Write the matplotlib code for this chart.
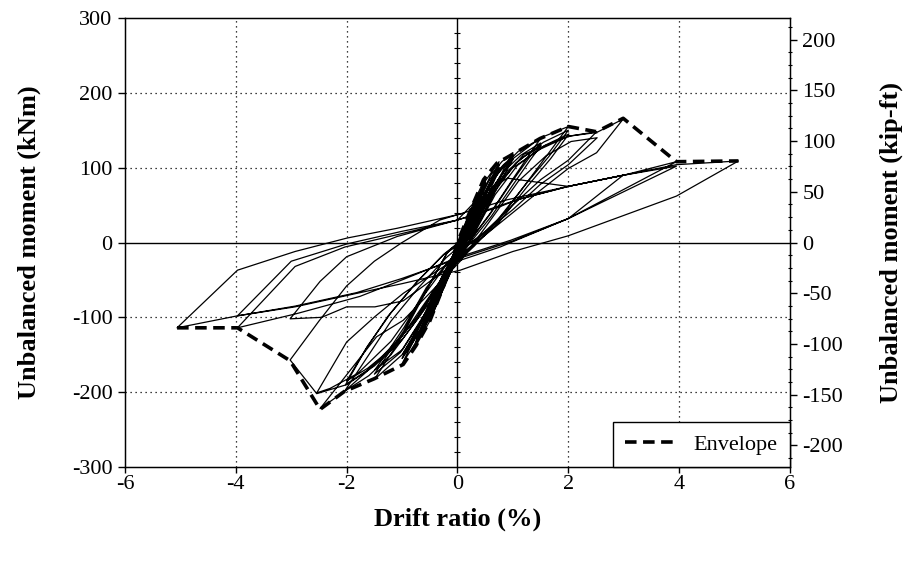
import numpy as np
import matplotlib
matplotlib.use("Agg")
import matplotlib.pyplot as plt
from matplotlib.ticker import MultipleLocator

plt.rcParams['font.family'] = ['Liberation Serif', 'DejaVu Serif']

# Recorded hysteresis: drift ratio (%) and unbalanced moment (kNm), in test order
drift = [
    # 0.25 %
    0.00, 0.12, 0.25, 0.18, 0.05, -0.10, -0.25, -0.17, -0.05,
    0.15, 0.26, 0.20, 0.07, -0.08, -0.25, -0.18, -0.06,
    0.14, 0.25, 0.19, 0.06, -0.09, -0.24, -0.17, -0.05,
    # 0.5 %
    0.10, 0.30, 0.50, 0.42, 0.25, 0.10, -0.10, -0.30, -0.50, -0.42, -0.25, -0.10,
    0.12, 0.32, 0.50, 0.41, 0.24, 0.08, -0.12, -0.32, -0.50, -0.41, -0.24, -0.08,
    0.14, 0.33, 0.51, 0.42, 0.26, 0.10, -0.11, -0.31, -0.49, -0.40, -0.23, -0.07,
    # 0.75 %
    0.10, 0.30, 0.50, 0.75, 0.65, 0.45, 0.20, 0.00, -0.25, -0.50, -0.75, -0.65, -0.45, -0.20,
    0.15, 0.35, 0.55, 0.75, 0.64, 0.43, 0.18, -0.02, -0.27, -0.52, -0.75, -0.64, -0.44, -0.18,
    0.17, 0.37, 0.57, 0.76, 0.66, 0.46, 0.21, 0.01, -0.24, -0.49, -0.74, -0.63, -0.43, -0.17,
    # 1.0 %
    0.10, 0.35, 0.60, 0.80, 1.00, 0.85, 0.60, 0.30, 0.00, -0.30, -0.60, -0.85, -1.00, -0.85, -0.60, -0.30, 0.00,
    0.15, 0.40, 0.64, 0.83, 1.00, 0.84, 0.58, 0.28, -0.02, -0.32, -0.62, -0.86, -1.00, -0.84, -0.58, -0.28, 0.02,
    0.18, 0.43, 0.66, 0.85, 1.01, 0.86, 0.61, 0.31, 0.01, -0.29, -0.59, -0.84, -0.99, -0.83, -0.57, -0.27,
    # 1.5 %
    0.15, 0.50, 0.80, 1.10, 1.50, 1.30, 1.00, 0.60, 0.20, -0.20, -0.60, -1.00, -1.50, -1.30, -1.00, -0.60, -0.20,
    0.20, 0.55, 0.85, 1.15, 1.50, 1.28, 0.97, 0.57, 0.17, -0.23, -0.63, -1.03, -1.50, -1.28, -0.97, -0.57, -0.17,
    0.22, 0.57, 0.88, 1.18, 1.51, 1.31, 1.01, 0.61, 0.21, -0.19, -0.59, -0.99, -1.49, -1.27, -0.96, -0.56,
    # 2.0 %
    0.20, 0.60, 1.00, 1.50, 2.00, 1.70, 1.30, 0.80, 0.30, -0.20, -0.70, -1.20, -1.60, -2.04, -1.60, -1.20, -0.70, -0.20,
    0.25, 0.65, 1.05, 1.55, 2.00, 1.65, 1.20, 0.70, 0.20, -0.25, -0.75, -1.25, -1.65, -2.02, -1.65, -1.25, -0.75, -0.25,
    0.28, 0.68, 1.08, 1.58, 2.01, 1.68, 1.25, 0.75, 0.25, -0.22, -0.72, -1.22, -1.62, -2.00, -1.62, -1.20, -0.70, -0.22,
    # 2.5 %
    0.20, 0.70, 1.20, 2.00, 2.51, 2.00, 1.50, 1.00, 0.50, 0.00, -0.30, -1.00, -1.60, -2.04, -2.48, -1.46, -0.98, -0.40, 0.05,
    0.50, 1.10, 1.60, 2.05, 2.52, 2.00, 1.50, 1.00, 0.40, -0.10, -0.60, -1.20, -1.80, -2.30, -2.54, -2.00, -1.49, -0.98, 0.00,
    # 3.0 %
    0.50, 1.00, 1.50, 2.00, 2.51, 2.99, 2.51, 2.00, 1.50, 1.00, 0.50, 0.00,
    -0.50, -1.00, -1.50, -2.00, -2.54, -3.02, -2.50, -2.00, -1.50, -1.00, -0.32,
    0.89, 2.00, 2.99, 2.00, 0.77, 0.00,
    -0.98, -1.49, -2.00, -2.45, -3.02, -2.48, -2.00, -1.09, 0.00,
    # 4.0 %
    0.45, 0.90, 2.00, 3.00, 3.95, 2.00, 0.96, 0.00,
    -1.00, -1.76, -2.90, -3.97, -2.93, -2.03, -1.00, 0.00,
    1.07, 2.00, 3.00, 3.95, 2.00, 1.00, 0.00,
    -1.00, -1.82, -2.93, -3.97, -3.00, -2.00, -1.00, 0.00,
    # 5.0 %
    0.77, 1.07, 2.00, 3.00, 3.95, 5.07, 3.95, 2.00, 1.00, 0.05,
    -1.00, -1.82, -2.93, -3.97, -5.06, -3.97, -2.93, -1.99, -1.09, 0.11,
]

moment = [
    # 0.25 %
    0, 22, 46, 30, 5, -22, -58, -40, -15,
    25, 44, 30, 5, -20, -55, -38, -14,
    24, 42, 29, 4, -21, -53, -36, -13,
    # 0.5 %
    15, 55, 86, 65, 30, 5, -30, -70, -105, -85, -50, -20,
    14, 52, 82, 62, 28, 3, -32, -72, -100, -80, -47, -18,
    13, 50, 80, 61, 29, 4, -31, -70, -97, -78, -45, -16,
    # 0.75 %
    10, 50, 82, 108, 88, 55, 15, -15, -60, -105, -138, -118, -85, -40,
    18, 52, 80, 103, 84, 50, 12, -18, -62, -103, -132, -112, -80, -36,
    17, 50, 78, 100, 82, 49, 11, -17, -60, -100, -128, -109, -78, -34,
    # 1.0 %
    8, 50, 90, 108, 120, 100, 65, 20, -20, -65, -115, -145, -162, -140, -100, -50, -5,
    10, 52, 88, 104, 115, 95, 60, 16, -22, -66, -112, -140, -155, -134, -95, -46, -3,
    11, 52, 86, 102, 112, 93, 58, 15, -21, -64, -108, -136, -150, -130, -92, -44,
    # 1.5 %
    10, 65, 100, 122, 139, 118, 85, 40, 0, -45, -100, -150, -183, -160, -125, -70, -15,
    12, 64, 96, 117, 133, 112, 80, 36, -3, -48, -100, -147, -176, -152, -118, -64, -12,
    13, 62, 94, 114, 130, 110, 78, 35, -2, -46, -97, -143, -170, -147, -113, -60,
    # 2.0 %
    5, 70, 112, 140, 155, 125, 85, 35, -5, -40, -100, -150, -178, -199, -150, -105, -60, -20,
    8, 66, 106, 134, 150, 115, 75, 28, -8, -44, -102, -148, -172, -190, -142, -98, -54, -16,
    9, 64, 103, 130, 145, 112, 74, 27, -7, -42, -99, -144, -168, -185, -138, -94, -50, -14,
    # 2.5 %
    10, 75, 118, 142, 148, 110, 84, 50, 15, -15, -50, -125, -170, -199, -222, -126, -104, -60, -25,
    20, 82, 116, 135, 140, 104, 78, 44, 8, -20, -70, -132, -175, -195, -201, -133, -99, -68, -20,
    # 3.0 %
    60, 100, 125, 142, 147, 165, 120, 99, 70, 40, 10, -20,
    -80, -130, -165, -190, -202, -157, -105, -58, -25, 0, 30,
    57, 75, 90, 32, -6, -25,
    -78, -86, -86, -100, -102, -52, -19, 8, 30,
    # 4.0 %
    65, 86, 75, 90, 108, 32, 3, -20,
    -50, -72, -95, -114, -32, -6, 12, 30,
    57, 75, 90, 102, 32, 2, -22,
    -48, -67, -85, -98, -25, -2, 15, 30,
    # 5.0 %
    48, 57, 75, 90, 104, 109, 62, 9, -12, -37,
    -55, -68, -86, -98, -114, -37, -12, 6, 19, 39,
]

# Backbone (envelope) of the hysteresis
env_drift = [-5.06, -3.97, -3.02, -2.48, -2.04, -1.50, -0.98, -0.75, -0.50, -0.25, 0.00,
             0.25, 0.47, 0.71, 1.07, 1.49, 2.00, 2.51, 2.99, 3.95, 5.07]
env_moment = [-114, -114, -158, -223, -199, -182, -163, -138, -105, -58, 0,
              46, 84, 106, 121, 139, 155, 148, 166, 108, 109]

x_ticks = [-6, -4, -2, 0, 2, 4, 6]
y_ticks = [-300, -200, -100, 0, 100, 200, 300]
kipft_ticks = [-200, -150, -100, -50, 0, 50, 100, 150, 200]
KNM_TO_KIPFT = 0.7376

fig = plt.figure(figsize=(9.07, 5.67), dpi=100)
ax = fig.add_axes([0.1378, 0.1764, 0.7332, 0.7918])

ax.set_xlim(-6, 6)
ax.set_ylim(-300, 300)
ax.set_xticks(x_ticks)
ax.set_yticks(y_ticks)
ax.set_xticklabels([str(t) for t in x_ticks])
ax.set_yticklabels([str(t) for t in y_ticks])

# Dotted grid, solid axes through the origin
for gx in x_ticks[1:-1]:
    if gx != 0:
        ax.axvline(gx, color='black', lw=0.9, ls=(0, (1, 3)), zorder=1)
for gy in y_ticks[1:-1]:
    if gy != 0:
        ax.axhline(gy, color='black', lw=0.9, ls=(0, (1, 3)), zorder=1)
ax.axvline(0, color='black', lw=1.0, zorder=1)
ax.axhline(0, color='black', lw=1.0, zorder=1)

# small tick marks along the vertical axis through the origin
yt = np.arange(-280, 300, 20)
ax.plot(np.zeros_like(yt), yt, ls='none', marker='_', ms=4, mew=0.8, color='black', zorder=1)

ax.plot(drift, moment, color='black', lw=0.9, zorder=2)
ax.plot(env_drift, env_moment, color='black', lw=2.6, ls=(0, (3.2, 1.8)),
        zorder=3, label='Envelope')

for s in ax.spines.values():
    s.set_linewidth(1.0)
ax.tick_params(axis='y', direction='out', length=5, width=1.0,
               labelsize=16, pad=4)
ax.tick_params(axis='x', direction='out', length=4, width=1.0,
               labelsize=16, pad=1.5)

ax.set_xlabel('Drift ratio (%)', fontsize=19, fontweight='bold', labelpad=10)
ax.set_ylabel('Unbalanced moment (kNm)', fontsize=19, fontweight='bold', labelpad=22)

ax2 = ax.twinx()
ax2.set_ylim(-300 * KNM_TO_KIPFT, 300 * KNM_TO_KIPFT)
ax2.set_yticks(kipft_ticks)
ax2.set_yticklabels([str(t) for t in kipft_ticks])
ax2.yaxis.set_minor_locator(MultipleLocator(12.5))
ax2.tick_params(axis='y', which='major', direction='out', length=5, width=1.0,
                labelsize=16, pad=4)
ax2.tick_params(axis='y', which='minor', direction='inout', length=3, width=0.8)
ax2.set_ylabel('Unbalanced moment (kip-ft)', fontsize=19, fontweight='bold', labelpad=26)

leg = ax.legend(loc='lower right', fontsize=16, frameon=True, fancybox=False,
                edgecolor='black', framealpha=1, handlelength=2.4,
                handletextpad=0.7, borderaxespad=0.0, borderpad=0.55)
leg.get_frame().set_linewidth(1.0)

fig.savefig('out.png', dpi=100)
